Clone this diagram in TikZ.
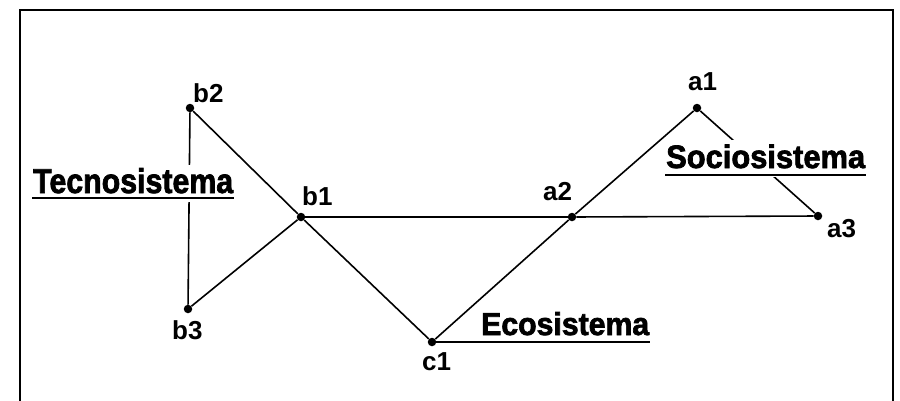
\documentclass[tikz,border=0pt]{standalone}
\usepackage{fontspec}
\setmainfont{Liberation Sans}
\newfontfamily\sysfont{Liberation Sans}[BoldFeatures={FakeBold=2.2}]
\begin{document}
\begin{tikzpicture}[x=1pt,y=-1pt,
  dot/.style={circle,fill=black,inner sep=0pt,minimum size=8.5pt},
  ptlbl/.style={anchor=base west,inner sep=0pt,font=\fontsize{26}{26}\selectfont\bfseries},
  syslbl/.style={anchor=base west,inner xsep=1pt,inner ysep=0pt,fill=white,text height=28pt,text depth=9pt,font=\sysfont\fontsize{34}{34}\selectfont\bfseries},
  link/.style={line width=1.6pt},
  uline/.style={line width=1.8pt},
  frame/.style={line width=2pt}]
\useasboundingbox (0,0) rectangle (900,400);
% frame
\coordinate (fbl) at (20,402);
\coordinate (ftl) at (20,10);
\coordinate (ftr) at (893,10);
\coordinate (fbr) at (893,402);
\draw[frame] (fbl) -- (ftl) -- (ftr) -- (fbr);
% points
\node[dot] (b2) at (190,108) {};
\node[dot] (b3) at (188,309) {};
\node[dot] (b1) at (301,217) {};
\node[dot] (c1) at (432,342) {};
\node[dot] (a2) at (572,217) {};
\node[dot] (a1) at (697,108) {};
\node[dot] (a3) at (818,216) {};
% connectors
\draw[link] (b2) -- (b3);
\draw[link] (b2) -- (b1);
\draw[link] (b3) -- (b1);
\draw[link] (b1) -- (c1);
\draw[link] (b1) -- (a2);
\draw[link] (a2) -- (a3);
\draw[link] (c1) -- (a2);
\draw[link] (a2) -- (a1);
\draw[link] (a1) -- (a3);
% point labels
\node[ptlbl] (lb2) at (193,102) {b2};
\node[ptlbl] (lb1) at (302,205) {b1};
\node[ptlbl] (lb3) at (172,339) {b3};
\node[ptlbl] (lc1) at (422,370) {c1};
\node[ptlbl] (la2) at (543,200) {a2};
\node[ptlbl] (la1) at (688,90) {a1};
\node[ptlbl] (la3) at (827,237) {a3};
% system labels
\node[syslbl] (tec) at (32,193) {\resizebox{200pt}{25pt}{Tecnosistema}};
\node[syslbl] (soc) at (665,168) {\resizebox{199pt}{23.5pt}{Sociosistema}};
\node[syslbl] (eco) at (480,335) {\resizebox{168pt}{23pt}{Ecosistema}};
\draw[uline] ([yshift=-5pt]tec.base west) -- ([yshift=-5pt]tec.base east);
\draw[uline] ([yshift=-7pt]soc.base west) -- ([yshift=-7pt]soc.base east);
\draw[uline] (c1) -- (c1 -| eco.east);
\end{tikzpicture}
\end{document}
